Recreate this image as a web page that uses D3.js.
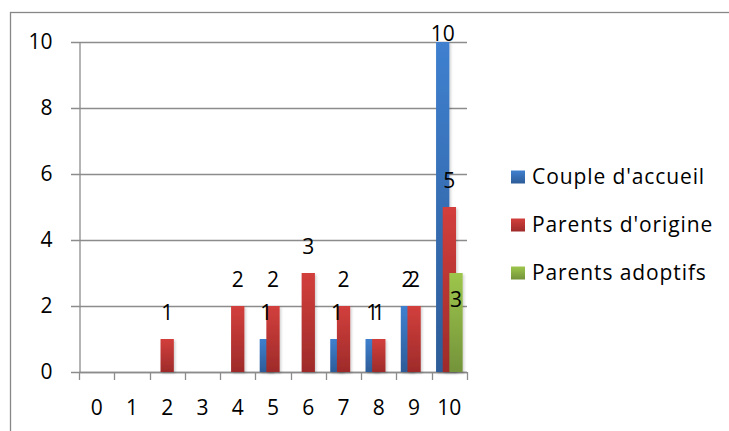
<!DOCTYPE html>
<html>
<head>
<meta charset="utf-8">
<script src="https://cdn.jsdelivr.net/npm/d3@7"></script>
<style>
  html, body { margin: 0; padding: 0; background: #fff; }
  svg { display: block; font-family: "Open Sans", Lato, sans-serif; }
</style>
</head>
<body>
<svg id="chart" width="729" height="431"></svg>
<script>
// Categories along the x axis
const categories = ["0", "1", "2", "3", "4", "5", "6", "7", "8", "9", "10"];

// Series names and values, one per category
const seriesNames = ["Couple d'accueil", "Parents d'origine", "Parents adoptifs"];
const coupleAccueil   = [0, 0, 0, 0, 0, 1, 0, 1, 1, 2, 10];
const parentsOrigine  = [0, 0, 1, 0, 2, 2, 3, 2, 1, 2, 5];
const parentsAdoptifs = [0, 0, 0, 0, 0, 0, 0, 0, 0, 0, 3];

// Y axis ticks
const yTicks = [0, 2, 4, 6, 8, 10];

const seriesValues = [coupleAccueil, parentsOrigine, parentsAdoptifs];
const colors = [
  { top: "#3f80cf", bottom: "#2d5c98" },
  { top: "#d23f3c", bottom: "#9e2b2a" },
  { top: "#9dc64c", bottom: "#74933a" }
];
// series whose value labels sit inside the bar top
const insideLabelSeries = new Set([2]);

const FONT = 21;
const svg = d3.select("#chart");
const W = 729, H = 431;
const plot = { left: 79, right: 467, top: 42, bottom: 372 };

// gradients
const defs = svg.append("defs");
colors.forEach((c, i) => {
  const g = defs.append("linearGradient").attr("id", "grad" + i)
    .attr("x1", 0).attr("y1", 0).attr("x2", 0).attr("y2", 1);
  g.append("stop").attr("offset", "0%").attr("stop-color", c.top);
  g.append("stop").attr("offset", "100%").attr("stop-color", c.bottom);
});
const sh = defs.append("filter").attr("id", "shadow").attr("x", "-30%").attr("y", "-10%").attr("width", "160%").attr("height", "130%");
sh.append("feDropShadow").attr("dx", 1.5).attr("dy", 1.5).attr("stdDeviation", 1.2)
  .attr("flood-color", "#000").attr("flood-opacity", 0.18);

// chart area border (runs past the right and bottom edges)
svg.append("rect")
  .attr("x", 10.5).attr("y", 12.5)
  .attr("width", W + 20).attr("height", H + 20)
  .attr("fill", "none").attr("stroke", "#878787").attr("stroke-width", 1.3);

const x = d3.scaleBand().domain(categories).range([plot.left, plot.right]).padding(0);
const y = d3.scaleLinear().domain([0, 10]).range([plot.bottom, plot.top]);

// gridlines
svg.append("g").selectAll("line").data(yTicks).join("line")
  .attr("x1", plot.left - 8).attr("x2", plot.right)
  .attr("y1", d => Math.round(y(d)) + 0.5).attr("y2", d => Math.round(y(d)) + 0.5)
  .attr("stroke", "#8c8c8c").attr("stroke-width", 1.3);

// y axis
const yAxis = svg.append("g")
  .attr("transform", `translate(${plot.left + 0.5},0)`)
  .call(d3.axisLeft(y).tickValues(yTicks).tickSize(0).tickPadding(27).tickFormat(d3.format("d")));
yAxis.select(".domain").attr("stroke", "#8c8c8c").attr("stroke-width", 1.3);
yAxis.selectAll("text").attr("font-size", FONT).attr("fill", "#000")
  .attr("font-family", "'Open Sans', Lato, sans-serif");

// x axis line and ticks at category boundaries
const xg = svg.append("g");
xg.append("line").attr("x1", plot.left).attr("x2", plot.right)
  .attr("y1", plot.bottom + 0.5).attr("y2", plot.bottom + 0.5)
  .attr("stroke", "#8c8c8c").attr("stroke-width", 1.3);
const bounds = categories.map(c => x(c)).concat([plot.right]);
xg.selectAll("line.tick").data(bounds).join("line").attr("class", "tick")
  .attr("x1", d => Math.round(d) + 0.5).attr("x2", d => Math.round(d) + 0.5)
  .attr("y1", plot.bottom).attr("y2", plot.bottom + 8)
  .attr("stroke", "#8c8c8c").attr("stroke-width", 1.3);
xg.selectAll("text").data(categories).join("text")
  .attr("x", d => x(d) + x.bandwidth() / 2)
  .attr("y", 408).attr("dy", "0.35em")
  .attr("text-anchor", "middle").attr("font-size", FONT).attr("fill", "#000")
  .text(d => d);

// bars: overlapping clustered columns
const bw = x.bandwidth() * 0.377;
const step = bw / 2;
const groupW = bw + step * (seriesNames.length - 1);
const barX = (ci, si) => x(categories[ci]) + (x.bandwidth() - groupW) / 2 + si * step;

const barsG = svg.append("g");
seriesValues.forEach((vals, si) => {
  barsG.append("g").selectAll("rect").data(vals.map((v, ci) => ({ v, ci })).filter(d => d.v > 0))
    .join("rect")
    .attr("x", d => barX(d.ci, si))
    .attr("y", d => y(d.v))
    .attr("width", bw)
    .attr("height", d => y(0) - y(d.v))
    .attr("fill", `url(#grad${si})`)
    .attr("filter", "url(#shadow)");
});

// value labels
const labelsG = svg.append("g");
seriesValues.forEach((vals, si) => {
  labelsG.append("g").selectAll("text").data(vals.map((v, ci) => ({ v, ci })).filter(d => d.v > 0))
    .join("text")
    .attr("x", d => barX(d.ci, si) + bw / 2)
    .attr("y", d => insideLabelSeries.has(si) ? y(d.v) + 27 : Math.max(y(d.v) - 26, 34))
    .attr("dy", "0.35em")
    .attr("text-anchor", "middle").attr("font-size", FONT).attr("fill", "#000")
    .text(d => d.v);
});

// legend
const legend = svg.append("g");
seriesNames.forEach((name, i) => {
  const cy = 177 + i * 48;
  legend.append("rect").attr("x", 511).attr("y", cy - 6.5).attr("width", 14).attr("height", 13)
    .attr("fill", `url(#grad${i})`);
  legend.append("text").attr("x", 532).attr("y", cy).attr("dy", "0.35em")
    .attr("font-size", FONT).attr("letter-spacing", 0.9).attr("fill", "#000").text(name);
});
</script>
</body>
</html>
